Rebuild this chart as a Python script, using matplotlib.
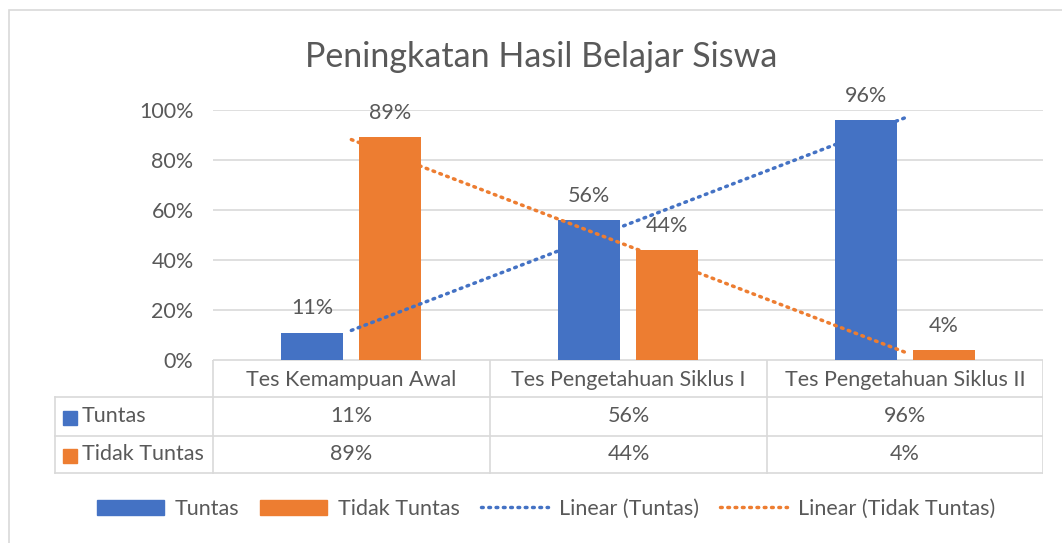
import numpy as np
import matplotlib
matplotlib.use("Agg")
import matplotlib.pyplot as plt
from matplotlib.patches import Rectangle
from matplotlib.lines import Line2D

plt.rcParams["font.family"] = ["Lato", "DejaVu Sans"]

# data
categories = ["Tes Kemampuan Awal", "Tes Pengetahuan Siklus I", "Tes Pengetahuan Siklus II"]
series_names = ["Tuntas", "Tidak Tuntas"]
tuntas = [0.11, 0.56, 0.96]
tidak_tuntas = [0.89, 0.44, 0.04]
yticks = [0, 0.2, 0.4, 0.6, 0.8, 1.0]

blue = "#4472C4"
orange = "#ED7D31"
txt = "#595959"
grid = "#D9D9D9"
fs = 15.5

W, H = 1062, 543
fig = plt.figure(figsize=(W / 100, H / 100), dpi=100)

# chart border (cropped on right/bottom like the original)
fig.patches.append(Rectangle((9 / W, -0.1), 2, (H - 10) / H + 0.1, transform=fig.transFigure,
                             fill=False, edgecolor="#D9D9D9", lw=1.2))


def px(x0, y0, x1, y1):
    return [x0 / W, 1 - y1 / H, (x1 - x0) / W, (y1 - y0) / H]


ax = fig.add_axes(px(213, 110, 1043, 360))
x = np.arange(len(categories))
bw = 0.224
off = 0.141
ax.bar(x - off, tuntas, bw, color=blue, zorder=2)
ax.bar(x + off, tidak_tuntas, bw, color=orange, zorder=2)

for xi, v in zip(x, tuntas):
    ax.text(xi - off, v + 0.096, f"{v:.0%}", ha="center", va="center", color=txt, fontsize=fs)
for xi, v in zip(x, tidak_tuntas):
    ax.text(xi + off, v + 0.096, f"{v:.0%}", ha="center", va="center", color=txt, fontsize=fs)

# linear trendlines
for vals, c in [(tuntas, blue), (tidak_tuntas, orange)]:
    k, b = np.polyfit(x, vals, 1)
    ax.plot(x, k * x + b, color=c, lw=2.5, ls=(0, (0.5, 1.6)), dash_capstyle="round",
            zorder=3, clip_on=False)

ax.set_xlim(-0.5, 2.5)
ax.set_ylim(0, 1)
ax.set_yticks(yticks)
ax.set_yticklabels([f"{t:.0%}" for t in yticks], color=txt, fontsize=fs)
ax.tick_params(axis="y", length=0, pad=14)
ax.set_xticks([])
ax.grid(axis="y", color=grid, lw=1.2, zorder=0)
ax.set_axisbelow(True)
for s in ax.spines.values():
    s.set_visible(False)

fig.text(541 / W, 1 - 57 / H, "Peningkatan Hasil Belajar Siswa", ha="center", va="center",
         color=txt, fontsize=24.5)

# data table
tab = fig.add_axes(px(27, 360, 1043, 474))
tab.set_xlim(27, 1043)
tab.set_ylim(474, 360)
tab.axis("off")
lc = "#D9D9D9"
col_edges = [213, 490, 767, 1043]
row_edges = [360, 397, 436, 473]
for cx in col_edges:
    tab.plot([cx, cx], [360, 473], color=lc, lw=1.2)
tab.plot([55, 55], [397, 473], color=lc, lw=1.2)
tab.plot([213, 1043], [360, 360], color=lc, lw=1.2)
for ry in row_edges[1:]:
    tab.plot([55, 1043], [ry, ry], color=lc, lw=1.2)

for i, cat in enumerate(categories):
    cx = (col_edges[i] + col_edges[i + 1]) / 2
    tab.text(cx, 380, cat, ha="center", va="center", color=txt, fontsize=fs)
for r, (name, vals, c) in enumerate([(series_names[0], tuntas, blue),
                                      (series_names[1], tidak_tuntas, orange)]):
    cy = (row_edges[r + 1] + row_edges[r + 2]) / 2
    tab.add_patch(Rectangle((63, cy - 6), 14, 14, color=c))
    tab.text(82, cy, name, ha="left", va="center", color=txt, fontsize=fs)
    for i, v in enumerate(vals):
        cx = (col_edges[i] + col_edges[i + 1]) / 2
        tab.text(cx, cy, f"{v:.0%}", ha="center", va="center", color=txt, fontsize=fs)

# legend
handles = [Rectangle((0, 0), 1, 1, color=blue), Rectangle((0, 0), 1, 1, color=orange),
           Line2D([], [], color=blue, lw=2.5, ls=(0, (0.5, 1.6)), dash_capstyle="round"),
           Line2D([], [], color=orange, lw=2.5, ls=(0, (0.5, 1.6)), dash_capstyle="round")]
labels = series_names + ["Linear (Tuntas)", "Linear (Tidak Tuntas)"]
fig.legend(handles, labels, loc="center", bbox_to_anchor=(546 / W, 1 - 509 / H), ncol=4,
           frameon=False, fontsize=fs, labelcolor=txt, handlelength=3.1, handleheight=0.7,
           columnspacing=1.0, handletextpad=0.5)

fig.savefig("out.png", dpi=100)
